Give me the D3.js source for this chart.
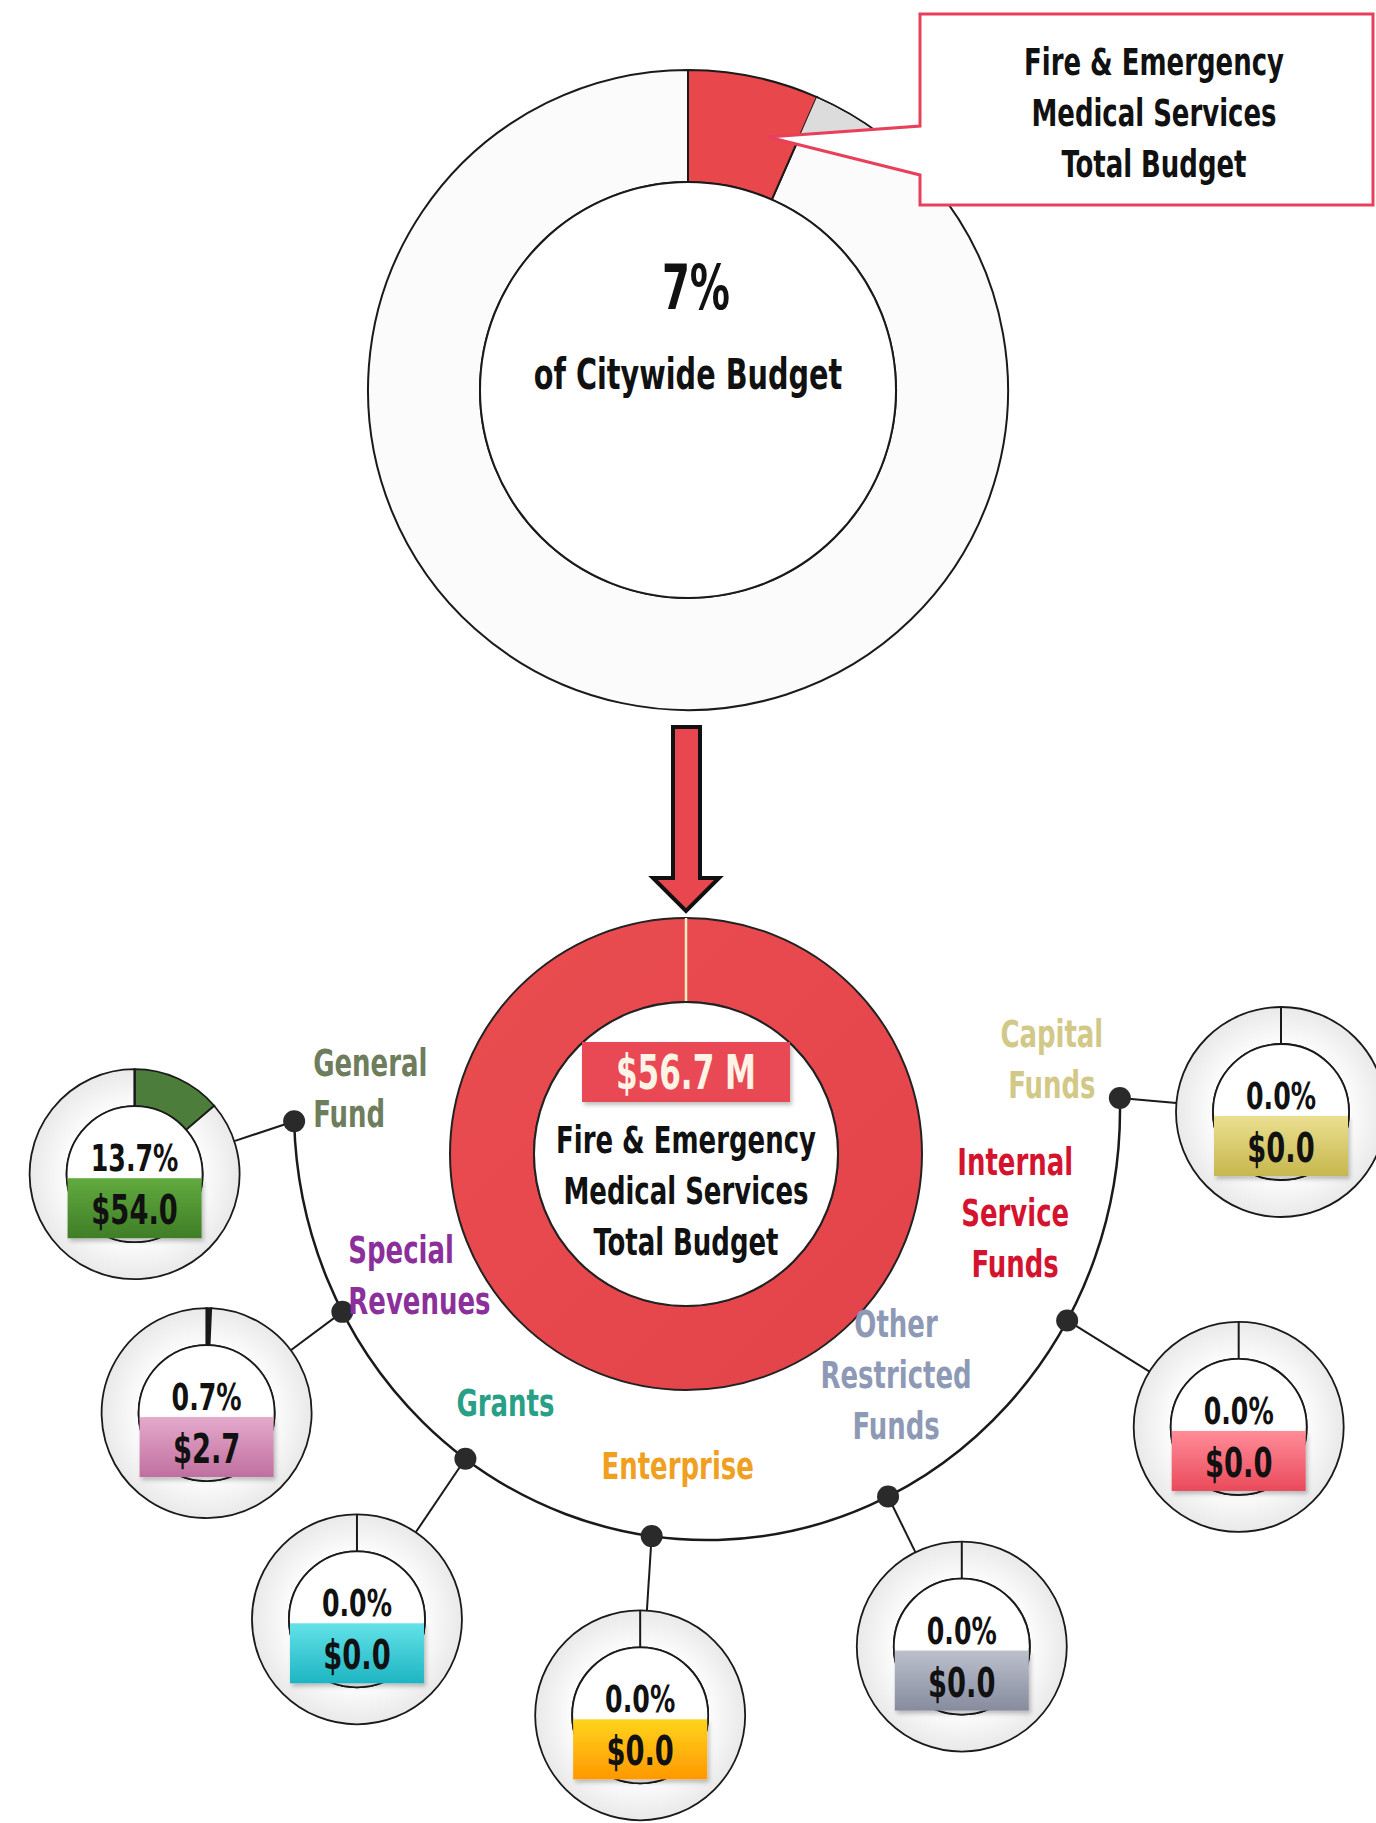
<!DOCTYPE html>
<html>
<head>
<meta charset="utf-8">
<script src="https://cdn.jsdelivr.net/npm/d3@7"></script>
<style>
  body { margin: 0; background: #fff; }
  svg text {
    font-family: "Liberation Sans Narrow", "Arial Narrow", "DejaVu Sans Condensed", sans-serif;
    font-weight: bold;
  }
</style>
</head>
<body>
<script>
// department share of the citywide budget (%)
var citywideShare = 6.6;
var deptName = ["Fire & Emergency", "Medical Services", "Total Budget"];
var deptTotal = 56.7; // $ millions

// breakdown by fund
var fundLabels = [["General", "Fund"], ["Special", "Revenues"], ["Grants"], ["Enterprise"],
                  ["Other", "Restricted", "Funds"], ["Internal", "Service", "Funds"], ["Capital", "Funds"]];
var fundPct = [13.7, 0.7, 0.0, 0.0, 0.0, 0.0, 0.0];
var fundAmt = [54.0, 2.7, 0.0, 0.0, 0.0, 0.0, 0.0];
var fundTextColor = ["#6e7d5c", "#8b2f9b", "#2a9f88", "#f0a020", "#8e9ab5", "#d4142f", "#d2c888"];
var fundSliceColor = ["#4d7d3a", "#1a1a1a", "#1a1a1a", "#1a1a1a", "#1a1a1a", "#1a1a1a", "#1a1a1a"];
var fundBoxTop = ["#62aa3e", "#e4aacb", "#63e2e8", "#ffd41c", "#bcc0cd", "#ff8c98", "#eadf90"];
var fundBoxBottom = ["#3f7e27", "#c06f9f", "#1db5c2", "#ff9800", "#868c9e", "#ea4a5b", "#c7b74e"];

var W = 1376, H = 1823;
var SX = 0.78; // squeeze text to look like a narrow display face

var svg = d3.select("body").append("svg")
  .attr("width", W)
  .attr("height", H);

var defs = svg.append("defs");

// ring fill used by the small donuts
var ringGrad = defs.append("radialGradient").attr("id", "ringGrad");
ringGrad.append("stop").attr("offset", "60%").attr("stop-color", "#ffffff");
ringGrad.append("stop").attr("offset", "100%").attr("stop-color", "#e9e9e9");

fundBoxTop.forEach(function(c, i){
  var g = defs.append("linearGradient").attr("id", "box" + i)
    .attr("x1", 0).attr("y1", 0).attr("x2", 0).attr("y2", 1);
  g.append("stop").attr("offset", "0%").attr("stop-color", c);
  g.append("stop").attr("offset", "100%").attr("stop-color", fundBoxBottom[i]);
});

var redGrad = defs.append("linearGradient").attr("id", "redGrad")
  .attr("x1", 0).attr("y1", 0).attr("x2", 1).attr("y2", 1);
redGrad.append("stop").attr("offset", "0%").attr("stop-color", "#ea4d50");
redGrad.append("stop").attr("offset", "100%").attr("stop-color", "#e2434a");

var shadow = defs.append("filter").attr("id", "shadow")
  .attr("x", "-10%").attr("y", "-10%").attr("width", "130%").attr("height", "140%");
shadow.append("feDropShadow").attr("dx", 2).attr("dy", 3).attr("stdDeviation", 2)
  .attr("flood-color", "#000").attr("flood-opacity", 0.25);

var pie = d3.pie().sort(null).value(function(d){ return d; });
var toRad = Math.PI / 180;

function squeeze(x, y, sx){
  return "translate(" + x + "," + y + ") scale(" + (sx || SX) + ",1)";
}

// callout outline (pointer tip sits on the slice)
var callout = [[920, 14], [1373, 14], [1373, 205], [920, 205], [920, 175], [768, 137], [920, 126]];

//--- top donut: share of citywide budget
var topD = { x: 688, y: 390, R: 320, r: 208 };
var topArc = d3.arc().innerRadius(topD.r).outerRadius(topD.R);
var topG = svg.append("g").attr("transform", "translate(" + topD.x + "," + topD.y + ")");

var topSlices = pie([citywideShare, 100 - citywideShare]);

topG.append("path")
  .attr("d", topArc(topSlices[1]))
  .attr("fill", "#fbfbfb")
  .attr("stroke", "#1a1a1a")
  .attr("stroke-width", 2);

// faint shadow wedge above the callout pointer
defs.append("clipPath").attr("id", "abovePointer")
  .append("path")
  .attr("d", d3.line()([callout[5], callout[6], [920, 0], [700, 0], [700, 137]]) + "Z");
svg.append("g").attr("clip-path", "url(#abovePointer)")
  .append("path")
  .attr("transform", "translate(" + topD.x + "," + topD.y + ")")
  .attr("d", topArc.outerRadius(topD.R - 1)({ startAngle: topSlices[0].endAngle, endAngle: topSlices[0].endAngle + 0.25 }))
  .attr("fill", "#dcdcdc");
topArc.outerRadius(topD.R);

topG.append("path")
  .attr("d", topArc(topSlices[0]))
  .attr("fill", "#e8474b")
  .attr("stroke", "#1a1a1a")
  .attr("stroke-width", 2);

topG.append("circle").attr("r", topD.r).attr("fill", "#fff")
  .attr("stroke", "#1a1a1a").attr("stroke-width", 2);

topG.append("text")
  .attr("transform", squeeze(8, -102, 0.72))
  .attr("text-anchor", "middle").attr("dominant-baseline", "central")
  .attr("font-size", 62).attr("fill", "#111")
  .text(Math.round(citywideShare) + "%");

topG.append("text")
  .attr("transform", squeeze(0, -16, 0.76))
  .attr("text-anchor", "middle").attr("dominant-baseline", "central")
  .attr("font-size", 42).attr("fill", "#111")
  .text("of Citywide Budget");

svg.append("path")
  .attr("d", d3.line()(callout) + "Z")
  .attr("fill", "#fff")
  .attr("stroke", "#e8405a")
  .attr("stroke-width", 3)
  .attr("stroke-linejoin", "miter");

svg.append("g").selectAll("text")
  .data(deptName)
  .enter().append("text")
  .attr("transform", function(d, i){ return squeeze(1154, 62 + i * 51); })
  .attr("text-anchor", "middle").attr("dominant-baseline", "central")
  .attr("font-size", 37).attr("fill", "#111")
  .text(function(d){ return d; });

//--- arrow down to the breakdown
var arrow = [[673, 727], [700, 727], [700, 878], [719, 878], [686, 911], [653, 878], [673, 878]];
svg.append("path")
  .attr("d", d3.line()(arrow) + "Z")
  .attr("fill", "#e8474f")
  .attr("stroke", "#111")
  .attr("stroke-width", 4)
  .attr("stroke-linejoin", "miter");

//--- big donut: department total
var mid = { x: 686, y: 1154, R: 236, r: 152 };
var midG = svg.append("g").attr("transform", "translate(" + mid.x + "," + mid.y + ")");
midG.append("path")
  .attr("d", d3.arc().innerRadius(mid.r).outerRadius(mid.R).startAngle(0).endAngle(2 * Math.PI)())
  .attr("fill", "url(#redGrad)")
  .attr("stroke", "#222").attr("stroke-width", 2);
midG.append("line")
  .attr("x1", 0).attr("y1", -mid.R).attr("x2", 0).attr("y2", -mid.r)
  .attr("stroke", "#f4eec2").attr("stroke-width", 2.5);
midG.append("circle").attr("r", mid.r).attr("fill", "#fff")
  .attr("stroke", "#222").attr("stroke-width", 2);

midG.append("rect")
  .attr("x", -104).attr("y", -112).attr("width", 208).attr("height", 60)
  .attr("fill", "#e84a55")
  .attr("filter", "url(#shadow)");
midG.append("text")
  .attr("transform", squeeze(0, -82, 0.72))
  .attr("text-anchor", "middle").attr("dominant-baseline", "central")
  .attr("font-size", 48).attr("fill", "#fff3e6")
  .text("$" + d3.format(".1f")(deptTotal) + " M");

midG.selectAll(".deptLine")
  .data(deptName)
  .enter().append("text")
  .attr("class", "deptLine")
  .attr("transform", function(d, i){ return squeeze(0, -14 + i * 51); })
  .attr("text-anchor", "middle").attr("dominant-baseline", "central")
  .attr("font-size", 37).attr("fill", "#111")
  .text(function(d){ return d; });

//--- hub arc with fund nodes
var hub = { x: 707, y: 1110, rx: 413, ry: 430 };
var dotAngle = [178.5, 152, 125.8, 97.7, 64, 29.3, -1.6];
var nodeAngle = [173.6, 148.8, 124.5, 96.3, 64.6, 30.8, 0.2];
var nodeDist = [576, 585, 618, 609, 594, 619, 574];
var labelOffset = [[19, -58, "start"], [6, -62, "start"], [40, -56, "middle"], [26, -70, "middle"],
                   [8, -172, "middle"], [-52, -158, "middle"], [-68, -64, "middle"]];
var nodeR = 105, nodeRin = 68;

var hubPath = d3.path();
hubPath.arc(0, 0, 1, dotAngle[6] * toRad, dotAngle[0] * toRad, false);
svg.append("path")
  .attr("d", hubPath.toString())
  .attr("transform", "translate(" + hub.x + "," + hub.y + ") scale(" + hub.rx + "," + hub.ry + ")")
  .attr("vector-effect", "non-scaling-stroke")
  .attr("fill", "none")
  .attr("stroke", "#1a1a1a")
  .attr("stroke-width", 2.5);

var nodes = fundPct.map(function(p, i){
  var dx = hub.x + hub.rx * Math.cos(dotAngle[i] * toRad);
  var dy = hub.y + hub.ry * Math.sin(dotAngle[i] * toRad);
  var nx = hub.x + nodeDist[i] * Math.cos(nodeAngle[i] * toRad);
  var ny = hub.y + nodeDist[i] * Math.sin(nodeAngle[i] * toRad);
  return { i: i, pct: p, amt: fundAmt[i], dot: [dx, dy], c: [nx, ny] };
});

// connectors from hub dot to donut edge
function edgePoint(d){
  var vx = d.dot[0] - d.c[0], vy = d.dot[1] - d.c[1], L = Math.hypot(vx, vy);
  return [d.c[0] + nodeR * vx / L, d.c[1] + nodeR * vy / L];
}
svg.append("g").selectAll("line")
  .data(nodes)
  .enter().append("line")
  .attr("x1", function(d){ return d.dot[0]; })
  .attr("y1", function(d){ return d.dot[1]; })
  .attr("x2", function(d){ return edgePoint(d)[0]; })
  .attr("y2", function(d){ return edgePoint(d)[1]; })
  .attr("stroke", "#1a1a1a")
  .attr("stroke-width", 2);

var smallArc = d3.arc().innerRadius(nodeRin).outerRadius(nodeR);

var nodeG = svg.append("g").selectAll("g")
  .data(nodes)
  .enter().append("g")
  .attr("transform", function(d){ return "translate(" + d.c[0] + "," + d.c[1] + ")"; });

nodeG.selectAll("path")
  .data(function(d){
    return pie([d.pct, 100 - d.pct]).map(function(s){ s.i = d.i; return s; });
  })
  .enter().append("path")
  .attr("d", smallArc)
  .attr("fill", function(s, j){ return j === 0 ? fundSliceColor[s.i] : "url(#ringGrad)"; })
  .attr("stroke", "#1a1a1a")
  .attr("stroke-width", 1.8);

// slice start tick at 12 o'clock
nodeG.append("line")
  .attr("x1", 0).attr("y1", -nodeR).attr("x2", 0).attr("y2", -nodeRin)
  .attr("stroke", "#1a1a1a").attr("stroke-width", 2);

nodeG.append("circle")
  .attr("r", nodeRin)
  .attr("fill", "#fff")
  .attr("stroke", "#1a1a1a").attr("stroke-width", 1.8);

nodeG.append("text")
  .attr("transform", squeeze(0, -16, 0.74))
  .attr("text-anchor", "middle").attr("dominant-baseline", "central")
  .attr("font-size", 38).attr("fill", "#111")
  .text(function(d){ return d3.format(".1f")(d.pct) + "%"; });

nodeG.append("rect")
  .attr("x", -67).attr("y", 4).attr("width", 134).attr("height", 60)
  .attr("fill", function(d){ return "url(#box" + d.i + ")"; })
  .attr("filter", "url(#shadow)");

nodeG.append("text")
  .attr("transform", squeeze(0, 36, 0.76))
  .attr("text-anchor", "middle").attr("dominant-baseline", "central")
  .attr("font-size", 40).attr("fill", "#111")
  .text(function(d){ return "$" + d3.format(".1f")(d.amt); });

// hub dots
svg.append("g").selectAll("circle")
  .data(nodes)
  .enter().append("circle")
  .attr("cx", function(d){ return d.dot[0]; })
  .attr("cy", function(d){ return d.dot[1]; })
  .attr("r", 11)
  .attr("fill", "#2a2a2a");

// fund labels
var labelG = svg.append("g").selectAll("text")
  .data(nodes)
  .enter().append("text")
  .attr("transform", function(d){
    return squeeze(d.dot[0] + labelOffset[d.i][0], d.dot[1] + labelOffset[d.i][1]);
  })
  .attr("text-anchor", function(d){ return labelOffset[d.i][2]; })
  .attr("font-size", 37)
  .attr("fill", function(d){ return fundTextColor[d.i]; });

labelG.selectAll("tspan")
  .data(function(d){
    return fundLabels[d.i].map(function(t, k){ return { t: t, k: k }; });
  })
  .enter().append("tspan")
  .attr("x", 0)
  .attr("y", function(s){ return s.k * 51; })
  .attr("dominant-baseline", "central")
  .text(function(s){ return s.t; });
</script>
</body>
</html>
